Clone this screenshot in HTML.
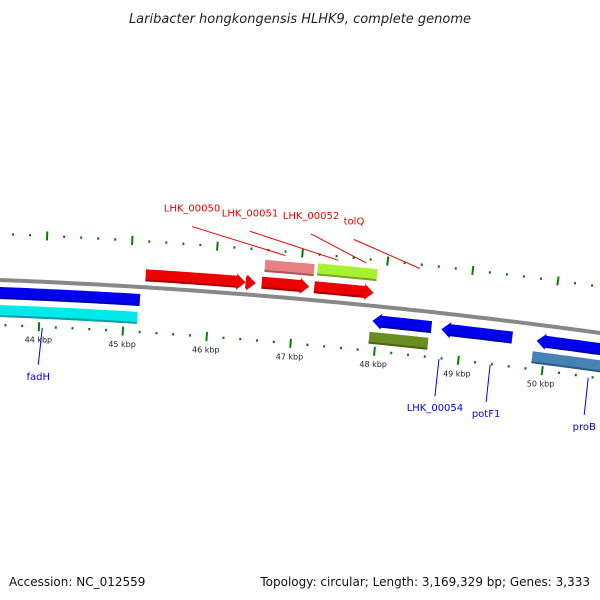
<!DOCTYPE html>
<html><head><meta charset="utf-8">
<style>
html,body{margin:0;padding:0;background:#fff;}
svg{display:block;font-family:"DejaVu Sans","Liberation Sans",sans-serif;}
</style></head>
<body>
<svg id="map" width="600" height="600" viewBox="0 0 600 600" xmlns="http://www.w3.org/2000/svg">
<defs>
<linearGradient id="bb" x1="0" y1="0" x2="0" y2="1"><stop offset="0" stop-color="#bbb"/><stop offset="0.5" stop-color="#888"/><stop offset="1" stop-color="#666"/></linearGradient>
</defs>
<text x="300" y="23" text-anchor="middle" font-size="13" font-style="italic" fill="#222">Laribacter hongkongensis HLHK9, complete genome</text>
<g id="ticks"></g>
<path id="backbone" fill="none" stroke="#888" stroke-width="4"/>
<g id="genes"></g>
<g id="labels"></g>
<text x="9" y="586" font-size="12" fill="#111">Accession: NC_012559</text>
<text x="590" y="586" text-anchor="end" font-size="12" fill="#111">Topology: circular; Length: 3,169,329 bp; Genes: 3,333</text>
</svg>
<script>
const geneNames = ["fadH","cyan-gene","LHK_00050","small-red","salmon-gene","LHK_00051","tolQ","LHK_00052","LHK_00054-gene","olive-gene","potF1-gene","proB-gene","steel-gene"];
const geneStart = [43.35,43.51,45.23,46.41,46.62,46.60,47.24,47.22,47.94,47.92,48.76,49.89,49.86];
const geneEnd   = [45.18,45.16,46.41,46.53,47.20,47.16,47.94,47.92,48.64,48.62,49.60,50.80,50.80];
const geneStrand= [0,0,1,1,0,1,0,1,-1,0,-1,-1,0];
const geneLane  = [13,31,-12,-12,-30,-13,-31,-13,15,32,16,16,33];
const geneColor = ["#0000ee","#00e8e8","#ee0000","#ee0000","#e88080","#ee0000","#a8f030","#ee0000","#0000ee","#6b8e23","#0000ee","#0000ee","#4682b4"];
const tickKbp = [43,44,45,46,47,48,49,50,51];
const labelText = ["LHK_00050","LHK_00051","LHK_00052","tolQ","fadH","LHK_00054","potF1","proB"];
const labelKbp  = [46.85,47.47,47.80,48.43,44.04,48.77,49.38,50.55];
const labelSide = [-1,-1,-1,-1,1,1,1,1];
const NS="http://www.w3.org/2000/svg";
function kx(k){return 41+(k-44)*84.5;}
function by(x){return 280+0.0383*x+8.33e-5*x*x;}
function nrm(x){const s=0.0383+2*8.33e-5*x;const n=Math.hypot(1,s);return [s/n,-1/n];}
// point at x on backbone offset d outward (negative d = up/outward)
function pt(x,d){const n=nrm(x);return [x-n[0]*d, by(x)-n[1]*d];}
function mk(t,a,p){const e=document.createElementNS(NS,t);for(const k in a)e.setAttribute(k,a[k]);p.appendChild(e);return e;}
// backbone
let d="";for(let x=-10;x<=610;x+=5){d+=(x===-10?"M":"L")+x+","+by(x).toFixed(2);}
const bbEl=document.getElementById('backbone');bbEl.setAttribute('d',d);
// ticks
const tg=document.getElementById('ticks');
for(let i=0;i<tickKbp.length-1;i++){for(let j=0;j<5;j++){
  const k=tickKbp[i]+j*0.2;const major=j===0;
  [-46,45].forEach(off=>{
    const x0=kx(k)+(off<0?4:0);
    const len=major?4.5:1.2;
    const a=pt(x0,off-len),b=pt(x0,off+len);
    const l=mk('line',{x1:a[0],y1:a[1],x2:b[0],y2:b[1],stroke:'#0a7a0a','stroke-width':2},tg);
    
    
  });
  if(major){const p=pt(kx(k),58);
    const t=mk('text',{x:p[0],y:p[1]+3,'text-anchor':'middle','font-size':8,fill:'#222'},tg);
    t.textContent=tickKbp[i]+" kbp";
    
    }
}}
// genes
const gg=document.getElementById('genes');
for(let i=0;i<geneNames.length;i++){
  const x1=kx(geneStart[i]),x2=kx(geneEnd[i]);const h=6,ah=8,al=9;
  const top=[],bot=[];
  let xs=x1,xe=x2;
  if(geneStrand[i]===1)xe=x2-al; if(geneStrand[i]===-1)xs=x1+al;
  const pts=[];
  if(geneStrand[i]===-1){pts.push(pt(x1,geneLane[i]));pts.push(pt(xs,geneLane[i]-ah));}
  for(let x=xs;x<=xe;x+=5)pts.push(pt(Math.min(x,xe),geneLane[i]-h));
  pts.push(pt(xe,geneLane[i]-h));
  if(geneStrand[i]===1){pts.push(pt(xe,geneLane[i]-ah));pts.push(pt(x2,geneLane[i]));pts.push(pt(xe,geneLane[i]+ah));}
  for(let x=xe;x>=xs;x-=5)pts.push(pt(Math.max(x,xs),geneLane[i]+h));
  pts.push(pt(xs,geneLane[i]+h));
  if(geneStrand[i]===-1)pts.push(pt(xs,geneLane[i]+ah));
  const p=mk('polygon',{points:pts.map(q=>q[0].toFixed(1)+","+q[1].toFixed(1)).join(" "),fill:geneColor[i]},gg);
  
  
  // dark lower edge
  const e=[];for(let x=xs;x<=xe;x+=5)e.push(pt(x,geneLane[i]+h-1));e.push(pt(xe,geneLane[i]+h-1));
  const pl=mk('polyline',{points:e.map(q=>q.join(",")).join(" "),fill:'none',stroke:'rgba(0,0,0,0.3)','stroke-width':2},gg);
  
  
}
// labels
const lg=document.getElementById('labels');
for(let i=0;i<labelText.length;i++){
  const up=labelSide[i]<0;const col=up?'#ee0000':'#0000ee';
  const x=kx(labelKbp[i]);
  const a=pt(x,up?-42:46);
  const ty=up?a[1]-44:a[1]+44;
  const tx=up?[192,250,311,354][i]:a[0]-4;
  const l=mk('line',{x1:a[0],y1:a[1],x2:tx,y2:up?ty+15:ty-7,stroke:col,'stroke-width':1},lg);
  
  
  const t=mk('text',{x:tx,y:ty+(up?0:8),'text-anchor':'middle','font-size':10,fill:col},lg);
  t.textContent=labelText[i];
  
  
}
</script>
</body></html>
